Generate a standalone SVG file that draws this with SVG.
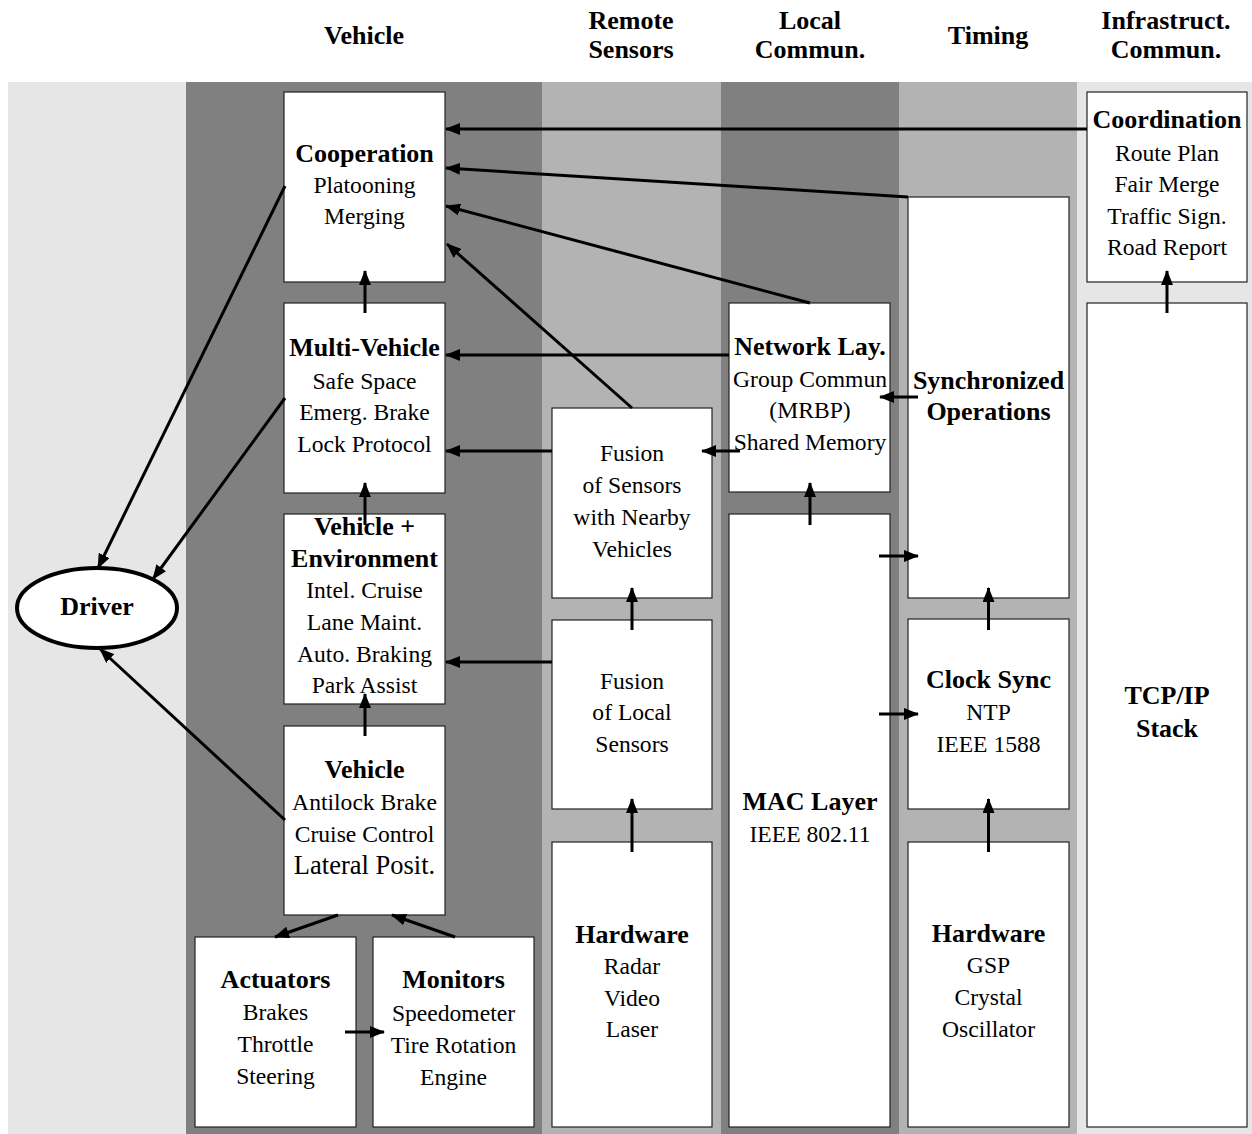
<svg xmlns="http://www.w3.org/2000/svg" width="1252" height="1134" viewBox="0 0 1252 1134">
  <style>
    text { font-family: "Liberation Serif", "Times New Roman", serif; fill: #000; text-anchor: middle; }
    .hd { font-size: 26px; font-weight: bold; }
    .t { font-size: 26px; font-weight: bold; }
    .b { font-size: 23.6px; }
    .box { fill: #fff; stroke: #222; stroke-width: 1.2; }
    .band-l { fill: #e6e6e6; }
    .band-d { fill: #808080; }
    .band-m { fill: #b3b3b3; }
    .arr { stroke: #000; stroke-width: 3; fill: none; marker-end: url(#ah); }
  </style>
  <defs>
    <marker id="ah" markerUnits="userSpaceOnUse" markerWidth="15" markerHeight="12" refX="14" refY="6" orient="auto">
      <path d="M0,0 L15,6 L0,12 z" fill="#000"/>
    </marker>
  </defs>

  <rect width="1252" height="1134" fill="#fff"/>

  <!-- column headers -->
  <g id="headers">
    <text class="hd" x="364" y="44">Vehicle</text>
    <text class="hd" x="631" y="29">Remote</text>
    <text class="hd" x="631" y="58">Sensors</text>
    <text class="hd" x="810" y="29">Local</text>
    <text class="hd" x="810" y="58">Commun.</text>
    <text class="hd" x="988" y="44">Timing</text>
    <text class="hd" x="1166" y="29">Infrastruct.</text>
    <text class="hd" x="1166" y="58">Commun.</text>
  </g>

  <!-- background bands -->
  <g id="bands">
    <rect class="band-l" x="8" y="82" width="178" height="1052"/>
    <rect class="band-d" x="186" y="82" width="356" height="1052"/>
    <rect class="band-m" x="542" y="82" width="179" height="1052"/>
    <rect class="band-d" x="721" y="82" width="178" height="1052"/>
    <rect class="band-m" x="899" y="82" width="178" height="1052"/>
    <rect class="band-l" x="1077" y="82" width="175" height="1052"/>
  </g>

  <!-- driver -->
  <g id="driver">
    <ellipse cx="97" cy="608" rx="80" ry="40" fill="#fff" stroke="#000" stroke-width="4"/>
    <text class="t" x="97" y="615">Driver</text>
  </g>

  <!-- vehicle column -->
  <g id="cooperation">
    <rect class="box" x="284" y="92" width="161" height="190"/>
    <text class="t" x="364.5" y="162">Cooperation</text>
    <text class="b" x="364.5" y="193">Platooning</text>
    <text class="b" x="364.5" y="224">Merging</text>
  </g>
  <g id="multi-vehicle">
    <rect class="box" x="284" y="303" width="161" height="190"/>
    <text class="t" x="364.5" y="356">Multi-Vehicle</text>
    <text class="b" x="364.5" y="389">Safe Space</text>
    <text class="b" x="364.5" y="420">Emerg. Brake</text>
    <text class="b" x="364.5" y="452">Lock Protocol</text>
  </g>
  <g id="vehicle-environment">
    <rect class="box" x="284" y="514" width="161" height="190"/>
    <text class="t" x="364.5" y="535">Vehicle +</text>
    <text class="t" x="364.5" y="567">Environment</text>
    <text class="b" x="364.5" y="598">Intel. Cruise</text>
    <text class="b" x="364.5" y="630">Lane Maint.</text>
    <text class="b" x="364.5" y="662">Auto. Braking</text>
    <text class="b" x="364.5" y="693">Park Assist</text>
  </g>
  <g id="vehicle">
    <rect class="box" x="284" y="726" width="161" height="189"/>
    <text class="t" x="364.5" y="778">Vehicle</text>
    <text class="b" x="364.5" y="810">Antilock Brake</text>
    <text class="b" x="364.5" y="842">Cruise Control</text>
    <text class="b" x="364.5" y="874" style="font-size:26.5px">Lateral Posit.</text>
  </g>
  <g id="actuators">
    <rect class="box" x="195" y="937" width="161" height="190"/>
    <text class="t" x="275.5" y="988">Actuators</text>
    <text class="b" x="275.5" y="1020">Brakes</text>
    <text class="b" x="275.5" y="1052">Throttle</text>
    <text class="b" x="275.5" y="1084">Steering</text>
  </g>
  <g id="monitors">
    <rect class="box" x="373" y="937" width="161" height="190"/>
    <text class="t" x="453.5" y="988">Monitors</text>
    <text class="b" x="453.5" y="1021">Speedometer</text>
    <text class="b" x="453.5" y="1053">Tire Rotation</text>
    <text class="b" x="453.5" y="1085">Engine</text>
  </g>

  <!-- remote sensors column -->
  <g id="fusion-nearby">
    <rect class="box" x="552" y="408" width="160" height="190"/>
    <text class="b" x="632" y="461">Fusion</text>
    <text class="b" x="632" y="493">of Sensors</text>
    <text class="b" x="632" y="525">with Nearby</text>
    <text class="b" x="632" y="557">Vehicles</text>
  </g>
  <g id="fusion-local">
    <rect class="box" x="552" y="620" width="160" height="189"/>
    <text class="b" x="632" y="689">Fusion</text>
    <text class="b" x="632" y="720">of Local</text>
    <text class="b" x="632" y="752">Sensors</text>
  </g>
  <g id="sensor-hardware">
    <rect class="box" x="552" y="842" width="160" height="285"/>
    <text class="t" x="632" y="943">Hardware</text>
    <text class="b" x="632" y="974">Radar</text>
    <text class="b" x="632" y="1006">Video</text>
    <text class="b" x="632" y="1037">Laser</text>
  </g>

  <!-- local communication column -->
  <g id="network-layer">
    <rect class="box" x="729" y="303" width="161" height="189"/>
    <text class="t" x="810" y="355">Network Lay.</text>
    <text class="b" x="810" y="387">Group Commun</text>
    <text class="b" x="810" y="418">(MRBP)</text>
    <text class="b" x="810" y="450">Shared Memory</text>
  </g>
  <g id="mac-layer">
    <rect class="box" x="729" y="514" width="161" height="613"/>
    <text class="t" x="810" y="810">MAC Layer</text>
    <text class="b" x="810" y="842">IEEE 802.11</text>
  </g>

  <!-- timing column -->
  <g id="synchronized-operations">
    <rect class="box" x="908" y="197" width="161" height="401"/>
    <text class="t" x="988.5" y="389">Synchronized</text>
    <text class="t" x="988.5" y="420">Operations</text>
  </g>
  <g id="clock-sync">
    <rect class="box" x="908" y="619" width="161" height="190"/>
    <text class="t" x="988.5" y="688">Clock Sync</text>
    <text class="b" x="988.5" y="720">NTP</text>
    <text class="b" x="988.5" y="752">IEEE 1588</text>
  </g>
  <g id="timing-hardware">
    <rect class="box" x="908" y="842" width="161" height="285"/>
    <text class="t" x="988.5" y="942">Hardware</text>
    <text class="b" x="988.5" y="973">GSP</text>
    <text class="b" x="988.5" y="1005">Crystal</text>
    <text class="b" x="988.5" y="1037">Oscillator</text>
  </g>

  <!-- infrastructure communication column -->
  <g id="coordination">
    <rect class="box" x="1087" y="92" width="160" height="190"/>
    <text class="t" x="1167" y="128">Coordination</text>
    <text class="b" x="1167" y="161">Route Plan</text>
    <text class="b" x="1167" y="192">Fair Merge</text>
    <text class="b" x="1167" y="224">Traffic Sign.</text>
    <text class="b" x="1167" y="255">Road Report</text>
  </g>
  <g id="tcp-ip">
    <rect class="box" x="1087" y="303" width="160" height="824"/>
    <text class="t" x="1167" y="704">TCP/IP</text>
    <text class="t" x="1167" y="737">Stack</text>
  </g>

  <!-- connectors -->
  <g id="connectors">
    <line class="arr" x1="1087" y1="129" x2="446" y2="129"/>
    <line class="arr" x1="908" y1="197" x2="446" y2="168"/>
    <line class="arr" x1="810" y1="303" x2="446" y2="206"/>
    <line class="arr" x1="632" y1="408" x2="447" y2="244"/>
    <line class="arr" x1="729" y1="355" x2="446" y2="355"/>
    <line class="arr" x1="552" y1="451" x2="446" y2="451"/>
    <line class="arr" x1="740" y1="451" x2="702" y2="451"/>
    <line class="arr" x1="918" y1="397" x2="880" y2="397"/>
    <line class="arr" x1="810" y1="525" x2="810" y2="483"/>
    <line class="arr" x1="879" y1="556" x2="918" y2="556"/>
    <line class="arr" x1="879" y1="714" x2="918" y2="714"/>
    <line class="arr" x1="988.5" y1="630" x2="988.5" y2="588"/>
    <line class="arr" x1="988.5" y1="852" x2="988.5" y2="799"/>
    <line class="arr" x1="1167" y1="313" x2="1167" y2="271"/>
    <line class="arr" x1="632" y1="630" x2="632" y2="588"/>
    <line class="arr" x1="632" y1="852" x2="632" y2="799"/>
    <line class="arr" x1="552" y1="662" x2="446" y2="662"/>
    <line class="arr" x1="365" y1="313" x2="365" y2="271"/>
    <line class="arr" x1="365" y1="525" x2="365" y2="483"/>
    <line class="arr" x1="365" y1="736" x2="365" y2="694"/>
    <line class="arr" x1="338" y1="915" x2="275" y2="937"/>
    <line class="arr" x1="455" y1="937" x2="392" y2="915"/>
    <line class="arr" x1="345" y1="1032" x2="384" y2="1032"/>
    <line class="arr" x1="285" y1="186" x2="98" y2="568"/>
    <line class="arr" x1="285" y1="398" x2="153" y2="579"/>
    <line class="arr" x1="285" y1="820" x2="100" y2="649"/>
  </g>
</svg>
